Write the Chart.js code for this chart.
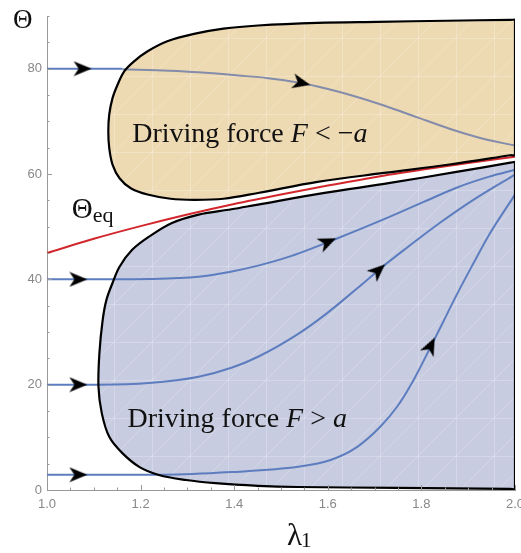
<!DOCTYPE html>
<html lang="en">
<head>
<meta charset="UTF-8">
<title>Driving force regions</title>
<script src="https://cdn.jsdelivr.net/npm/chart.js"></script>
<style>
  body { margin: 0; background: #fff; }
  canvas { display: block; }
</style>
</head>
<body>
<canvas id="chart" width="521" height="553"></canvas>
<script>
// axis ticks
const xTicks = [1.0, 1.2, 1.4, 1.6, 1.8, 2.0];
const yTicks = [0, 20, 40, 60, 80];

// outline of the region where F < -a
const negLambda = [2.0, 1.99, 1.854, 1.706, 1.578, 1.451, 1.377, 1.314, 1.257, 1.215, 1.186, 1.165, 1.151, 1.140, 1.133, 1.131, 1.133, 1.140, 1.155, 1.179, 1.215, 1.264, 1.314, 1.377, 1.451, 1.578, 1.720, 1.860, 1.99, 2.0, 2.0];
const negTheta  = [89.3, 89.28, 89.1, 88.9, 88.7, 88.2, 87.6, 86.6, 85.2, 83.3, 81.4, 79.5, 77.0, 74.4, 71.3, 68.1, 64.9, 61.8, 59.2, 57.3, 56.1, 55.3, 55.1, 55.3, 56.4, 58.5, 60.2, 61.8, 63.56, 63.7, 89.3];

// outline of the region where F > a
const posLambda = [2.0, 1.99, 1.875, 1.733, 1.593, 1.451, 1.394, 1.324, 1.267, 1.218, 1.182, 1.155, 1.140, 1.127, 1.119, 1.112, 1.110, 1.117, 1.133, 1.161, 1.197, 1.239, 1.297, 1.360, 1.451, 1.536, 1.748, 1.99, 2.0, 2.0];
const posTheta  = [62.3, 62.15, 60.4, 58.3, 56.4, 54.2, 53.3, 52.3, 50.7, 48.1, 45.6, 42.4, 39.3, 36.1, 32.3, 26.0, 19.6, 14.6, 10.1, 7.0, 4.4, 2.85, 1.9, 1.3, 0.8, 0.57, 0.4, 0.2, 0.2, 62.3];

// equilibrium angle
const eqLambda = [1.0, 1.1, 1.2, 1.3, 1.4, 1.5, 1.6, 1.7, 1.8, 1.9, 2.0];
const eqTheta  = [45.0, 47.7, 50.1, 52.3, 54.3, 56.1, 57.8, 59.4, 60.8, 62.1, 63.3];

// trajectories
const trajALambda   = [1.0, 1.161];
const trajATheta    = [80, 80];
const trajAInLambda = [1.161, 1.261, 1.324, 1.409, 1.472, 1.536, 1.578, 1.648, 1.720, 1.790, 1.860, 1.932, 2.0];
const trajAInTheta  = [79.9, 79.6, 79.3, 78.7, 78.2, 77.4, 76.6, 75.0, 73.0, 70.8, 68.6, 66.7, 65.4];
const trajBLambda = [1.0, 1.15, 1.218, 1.324, 1.39, 1.451, 1.521, 1.621, 1.733, 1.805, 1.875, 1.945, 2.0];
const trajBTheta  = [40, 40, 40.05, 40.5, 41.4, 42.6, 44.4, 47.8, 51.9, 54.7, 57.4, 59.5, 60.8];
const trajCLambda = [1.0, 1.112, 1.218, 1.324, 1.394, 1.451, 1.536, 1.593, 1.663, 1.720, 1.769, 1.839, 1.911, 2.0];
const trajCTheta  = [20, 20, 20.3, 21.5, 23.2, 25.3, 29.6, 33.2, 38.3, 42.6, 46.0, 50.7, 55.1, 59.9];
const trajDLambda = [1.0, 1.25, 1.394, 1.536, 1.606, 1.663, 1.712, 1.748, 1.784, 1.826, 1.847, 1.875, 1.911, 1.945, 2.0];
const trajDTheta  = [2.9, 2.9, 3.4, 4.4, 5.7, 8.2, 12.0, 15.8, 21.0, 28.3, 32.0, 37.0, 43.0, 48.5, 56.1];

// arrow heads along the trajectories
const arrowLambda = [1.076, 1.067, 1.067, 1.067, 1.544, 1.600, 1.708, 1.820];
const arrowTheta  = [80, 40, 20, 2.9, 77.3, 47.1, 41.7, 27.4];
const arrowAngle  = [0, 0, 0, 0, 13, -24, -42, -64];

const ORANGE = '#eedab2';
const BLUE = '#c7cce1';
const TRAJ = '#5d7dbf';
const TRAJ_IN = '#848cab';
const SERIF = '"Liberation Serif", "Times New Roman", serif';

function pts(xs, ys) {
    return xs.map((x, i) => ({ x: x, y: ys[i] }));
}

// faint mesh like the sampling triangles of the original plot
function meshFill(base) {
    const c = document.createElement('canvas');
    c.width = 38; c.height = 38;
    const g = c.getContext('2d');
    g.fillStyle = base;
    g.fillRect(0, 0, 38, 38);
    g.strokeStyle = 'rgba(255,255,255,0.22)';
    g.lineWidth = 1;
    g.beginPath();
    g.moveTo(0, 0.5); g.lineTo(38, 0.5);
    g.moveTo(0.5, 0); g.lineTo(0.5, 38);
    g.moveTo(0, 38); g.lineTo(38, 0);
    g.stroke();
    return g.createPattern(c, 'repeat');
}

function makeArrowHead() {
    const c = document.createElement('canvas');
    c.width = 20; c.height = 16;
    const g = c.getContext('2d');
    g.fillStyle = '#000';
    g.beginPath();
    g.moveTo(19, 8);
    g.lineTo(1, 0.5);
    g.lineTo(6, 8);
    g.lineTo(1, 15.5);
    g.closePath();
    g.fill();
    return c;
}

function region(xs, ys, color) {
    return {
        data: pts(xs, ys), borderColor: '#000', borderWidth: 2.2, backgroundColor: meshFill(color),
        fill: 'shape', tension: 0.35, pointRadius: 0, order: 1
    };
}

function traj(xs, ys, color) {
    return {
        data: pts(xs, ys), borderColor: color, borderWidth: 2, fill: false,
        cubicInterpolationMode: 'monotone', pointRadius: 0, order: 3
    };
}

// draws a run of text pieces, [text, italic]
function drawParts(ctx, parts, x, y, size) {
    for (const [text, italic] of parts) {
        ctx.font = (italic ? 'italic ' : '') + size + 'px ' + SERIF;
        ctx.fillText(text, x, y);
        x += ctx.measureText(text).width;
    }
    return x;
}

const decorations = {
    id: 'decorations',
    afterDatasetsDraw(chart) {
        const { ctx, scales: { x, y }, chartArea: a } = chart;
        ctx.save();
        // small tick marks inside the plot
        ctx.strokeStyle = '#999';
        ctx.lineWidth = 1;
        ctx.beginPath();
        for (let i = 0; i <= 18; i++) {
            const py = Math.round(y.getPixelForValue(i * 5)) + 0.5;
            const len = i % 4 === 0 ? 5 : 2.5;
            ctx.moveTo(a.left, py);
            ctx.lineTo(a.left + len, py);
        }
        for (let i = 0; i <= 20; i++) {
            const px = Math.round(x.getPixelForValue(1 + i * 0.05)) + 0.5;
            const len = i % 4 === 0 ? 5 : 2.5;
            ctx.moveTo(px, a.bottom);
            ctx.lineTo(px, a.bottom - len);
        }
        ctx.stroke();

        // labels inside the plot
        ctx.fillStyle = '#111';
        ctx.textBaseline = 'alphabetic';
        drawParts(ctx, [['Driving force ', false], ['F', true], [' < \u2212', false], ['a', true]],
            x.getPixelForValue(1.182), y.getPixelForValue(66.1), 28);
        drawParts(ctx, [['Driving force ', false], ['F', true], [' > ', false], ['a', true]],
            x.getPixelForValue(1.172), y.getPixelForValue(12.0), 28);
        const ex = drawParts(ctx, [['\u0398', false]], x.getPixelForValue(1.053), y.getPixelForValue(51.7), 29);
        drawParts(ctx, [['eq', false]], ex, y.getPixelForValue(51.7) + 4, 22);

        // axis titles
        drawParts(ctx, [['\u0398', false]], 13, a.top + 12, 27);
        const lx = drawParts(ctx, [['\u03bb', false]], 287, a.bottom + 55, 31);
        drawParts(ctx, [['1', false]], lx - 1, a.bottom + 57, 21);
        ctx.restore();
    }
};

const arrowHead = makeArrowHead();

new Chart(document.getElementById('chart'), {
    type: 'line',
    data: {
        datasets: [
            {
                data: pts(arrowLambda, arrowTheta), showLine: false, pointStyle: arrowHead,
                pointRadius: 5, pointRotation: arrowAngle, order: 0
            },
            region(negLambda, negTheta, ORANGE),
            region(posLambda, posTheta, BLUE),
            { data: pts(eqLambda, eqTheta), borderColor: '#d2272c', borderWidth: 2, fill: false,
              cubicInterpolationMode: 'monotone', pointRadius: 0, order: 2 },
            traj(trajALambda, trajATheta, TRAJ),
            traj(trajAInLambda, trajAInTheta, TRAJ_IN),
            traj(trajBLambda, trajBTheta, TRAJ),
            traj(trajCLambda, trajCTheta, TRAJ),
            traj(trajDLambda, trajDTheta, TRAJ)
        ]
    },
    options: {
        responsive: false,
        animation: false,
        layout: { padding: { top: 16, right: 2, left: 0, bottom: 0 } },
        plugins: {
            legend: { display: false },
            tooltip: { enabled: false },
            filler: { drawTime: 'beforeDatasetsDraw' }
        },
        scales: {
            x: {
                type: 'linear', min: 1, max: 2,
                afterBuildTicks: s => { s.ticks = xTicks.map(v => ({ value: v })); },
                afterFit: s => { s.height = 63; s.paddingLeft = 0; s.paddingRight = 0; },
                grid: { display: false, drawTicks: false },
                border: { display: true, color: '#999', width: 1 },
                ticks: {
                    padding: 7, color: '#888', maxRotation: 0,
                    font: { family: '"Liberation Sans", Arial, sans-serif', size: 13 },
                    callback: v => v.toFixed(1)
                }
            },
            y: {
                type: 'linear', min: 0, max: 90,
                afterBuildTicks: s => { s.ticks = yTicks.map(v => ({ value: v })); },
                afterFit: s => { s.width = 47; s.paddingTop = 0; s.paddingBottom = 0; },
                grid: { display: false, drawTicks: false },
                border: { display: true, color: '#999', width: 1 },
                ticks: {
                    padding: 5, color: '#888',
                    font: { family: '"Liberation Sans", Arial, sans-serif', size: 13 }
                }
            }
        }
    },
    plugins: [decorations]
});
</script>
</body>
</html>
